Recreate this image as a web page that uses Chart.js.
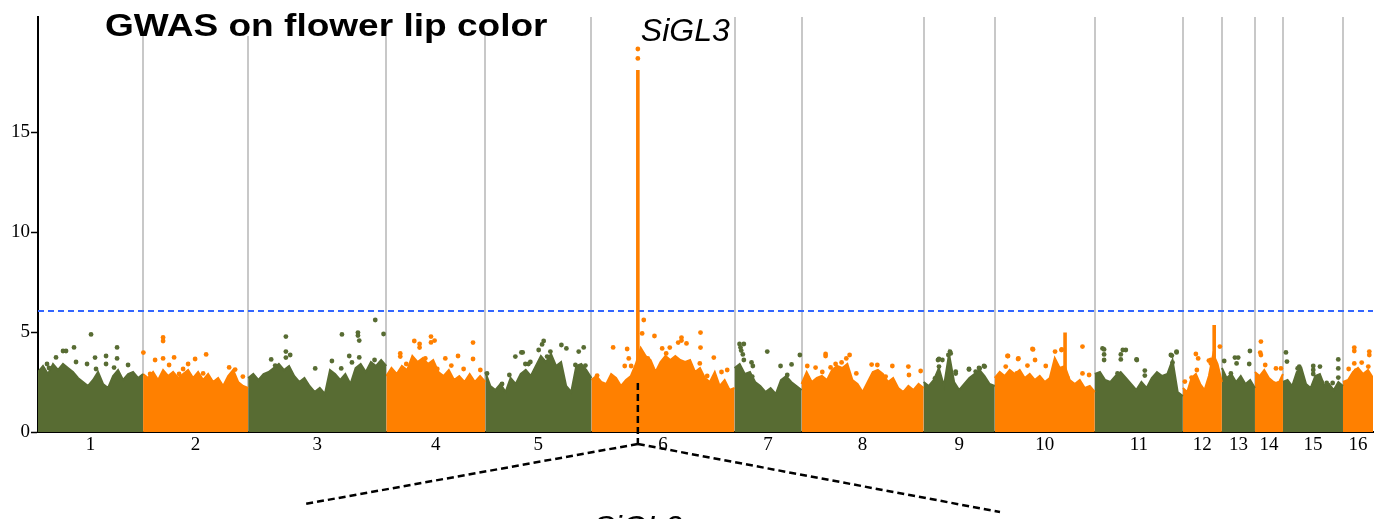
<!DOCTYPE html>
<html><head><meta charset="utf-8">
<script src="https://cdn.jsdelivr.net/npm/chart.js@4.4.1/dist/chart.umd.min.js"></script>
<style>html,body{margin:0;padding:0;background:#fff;}#wrap{width:1385px;height:519px;}</style>
</head><body><div id="wrap"><canvas id="c" width="1385" height="519"></canvas></div>
<script>
// ---------- data ----------
const titleText = 'GWAS on flower lip color';
const locusName = 'SiGL3';
const chromNames = ['1','2','3','4','5','6','7','8','9','10','11','12','13','14','15','16'];
const chromLengths = [105,105,138,99,106,143,67,122,71,100,88,39,33,28,60,30];
const yTicks = [0,5,10,15];
const yMax = 20.75;
const threshold = 6.05;

// upper edge of the dense SNP cloud, evenly spaced along each chromosome (-log10 p)
const top1 = [3.0,3.3,2.9,3.4,3.1,3.4,3.2,3.0,2.7,2.5,2.3,2.6,3.0,2.4,2.2,2.8,3.1,2.6,2.9,3.0,2.7,2.9];
const top2 = [2.9,2.7,3.0,2.6,3.1,2.8,3.0,2.7,2.9,3.1,2.7,3.0,2.6,2.9,2.5,2.7,2.3,2.8,3.1,2.5,2.3,2.2];
const top3 = [2.7,2.9,2.6,2.9,3.0,3.2,3.4,3.1,3.3,2.8,2.5,2.7,2.3,2.0,2.2,1.9,3.1,2.9,2.6,2.9,2.4,3.2,3.4,3.0,3.5,3.3,3.6,3.3];
const top4 = [2.8,3.2,2.9,3.3,3.1,3.8,3.5,3.7,3.4,3.6,3.0,2.8,3.1,2.6,2.8,2.5,2.9,2.5,2.8,2.5];
const top5 = [3.0,2.3,2.1,2.4,2.0,2.7,2.4,2.9,3.1,2.8,3.3,3.8,3.5,3.9,3.3,3.5,2.3,2.0,3.3,3.4,3.1,2.7];
const top6 = [2.6,2.8,2.5,2.4,2.9,2.7,2.3,2.6,2.8,3.4,4.2,3.8,3.6,3.0,3.5,3.8,3.6,3.8,3.6,3.5,3.6,3.0,3.2,2.7,2.5,3.0,2.3,2.6,2.1,2.2];
const top7 = [3.2,3.4,2.9,3.0,2.5,2.3,2.0,2.2,1.9,2.6,2.8,2.5,2.3,2.1];
const top8 = [2.4,3.0,2.5,2.7,2.8,2.6,3.1,3.3,3.2,3.4,2.6,2.4,2.0,2.5,3.0,3.1,2.9,2.5,2.7,2.2,2.0,2.3,2.1,2.4,2.2];
const top9 = [2.5,2.3,2.6,3.2,2.3,3.9,2.5,2.1,2.4,2.7,2.9,3.1,2.8,2.4,2.3];
const top10 = [2.7,3.0,2.8,3.1,2.9,3.1,2.7,2.9,2.6,2.8,2.5,2.7,3.7,3.2,3.3,2.6,2.4,2.6,2.2,2.3,2.0];
const top11 = [2.9,3.0,2.6,2.5,2.8,3.0,2.7,2.4,2.1,2.5,2.2,2.7,3.0,2.8,2.9,3.6,2.0,1.8];
const top12 = [2.2,2.0,2.7,2.9,2.4,2.1,2.8,3.9,3.4,2.5];
const top13 = [3.2,2.7,2.9,2.5,2.8,2.4,2.6,2.2];
const top14 = [3.0,2.8,3.1,2.7,2.5,2.4,2.9];
const top15 = [2.5,2.6,2.3,3.0,3.2,2.4,2.2,2.8,2.9,2.3,2.4,2.1,2.5,2.3];
const top16 = [2.5,2.6,3.0,3.2,2.9,3.1,2.7];
const tops = [top1,top2,top3,top4,top5,top6,top7,top8,top9,top10,top11,top12,top13,top14,top15,top16];

// isolated SNPs above the cloud: [genome position, -log10 p]
const hits1 = [[53,4.88],[36,4.23],[25,4.05],[28,4.05],[79,4.23],[79,3.68],[68,3.8],[57,3.72],[18,3.73],[38,3.5],[49,3.4],[68,3.4],[76,3.22],[90,3.35],[58,3.15],[94,2.8],[9,3.4],[11,3.2]];
const hits2 = [[125,4.73],[125,4.55],[105.3,3.97],[136,3.73],[117,3.6],[125,3.68],[168,3.88],[157,3.65],[150,3.4],[145,3.15],[131,3.35],[191,3.23],[197,3.12],[204.7,2.77],[112,2.9],[141,2.9],[165,2.93]];
const hits3 = [[337,5.6],[247.7,4.77],[303.7,4.88],[319.7,4.97],[319.7,4.82],[321,4.57],[345.3,4.9],[247.7,4.02],[247.7,3.72],[252,3.85],[233,3.63],[311,3.8],[321,3.73],[293.7,3.55],[277,3.18],[336.3,3.6],[303,3.18],[313.7,3.48],[237,3.32]];
const hits4 = [[376,4.55],[381.3,4.4],[381.3,4.22],[392.7,4.77],[392.7,4.48],[396.3,4.57],[434.7,4.47],[362,3.93],[362,3.77],[387,3.68],[407,3.68],[419.7,3.8],[434.7,3.65],[413,3.32],[425.3,3.15],[442,3.1],[399,3.15],[368,3.4]];
const hits5 = [[505.3,4.55],[503.7,4.38],[523,4.35],[528,4.18],[545.3,4.23],[540.3,4.02],[483,3.98],[484.3,3.98],[477,3.77],[500.3,4.1],[508.7,3.77],[512,4.02],[490,3.4],[487,3.4],[492,3.5],[537,3.35],[547,3.32],[471,2.85],[463.7,2.4],[448.7,2.93]];
const hits6 = [[662,4.97],[605.3,5.6],[603.7,4.93],[616,4.8],[643,4.72],[643,4.57],[648,4.43],[639.7,4.47],[662,4.22],[631.3,4.22],[623.7,4.18],[574.7,4.23],[588.7,4.15],[590.3,3.68],[609.3,3.68],[627.7,3.93],[586.3,3.3],[592.7,3.3],[558.7,2.82],[661.3,3.43],[661,2.93],[675.3,3.72],[683,3.0],[668.7,2.8],[688.7,3.1]];
const hits7 = [[701,4.4],[705.3,4.4],[702,4.23],[702.7,4.07],[704.3,3.88],[728.7,4.02],[761.3,3.85],[713,3.48],[714.3,3.3],[742,3.3],[753,3.38],[748.7,2.85],[705.3,3.6],[713.7,2.77]];
const hits8 = [[787,3.9],[787,3.8],[811,3.85],[807.7,3.68],[803,3.48],[797,3.4],[768.7,3.3],[777,3.22],[792,3.23],[833,3.37],[838.7,3.35],[853.7,3.3],[869.7,3.27],[882,3.05],[870.3,2.85],[817.7,2.93],[847,2.77],[783.7,3.0]];
const hits9 = [[911.3,4.02],[909.7,3.85],[899.3,3.6],[903.7,3.6],[917,3.02],[930.3,3.13],[945.3,3.3],[941,3.18],[937,3.02],[896.3,2.68],[900.3,3.65],[900.3,3.27],[912,3.93],[917,2.92],[940.3,3.2],[946,3.27],[930.3,3.15]];
const hits10 = [[993.7,4.15],[1043.7,4.27],[1022.7,4.1],[1016.3,4.02],[968.7,3.8],[979.7,3.68],[996.3,3.6],[1007,3.3],[967,3.27],[988.7,3.32],[1028.7,2.7],[1043.7,2.93],[1050.3,2.85],[978,2.93],[994.3,4.13],[1023,4.13],[969.3,3.8],[979.3,3.65]];
const hits11 = [[1065.3,4.13],[1065.3,3.88],[1065.3,3.6],[1087,4.1],[1082,3.88],[1082,3.63],[1097.7,3.63],[1106,3.07],[1106,2.82],[1078.7,2.93],[1137.7,3.98],[1133,3.82],[1133.7,3.47],[1063.7,4.18],[1084,4.1],[1098,3.6],[1137.7,4.02],[1132,3.85]];
const hits12 = [[1181,4.27],[1157,3.9],[1159.3,3.68],[1172,3.6],[1172,3.43],[1146,2.52],[1152.7,2.72],[1158,3.1],[1170,3.57]];
const hits13 = [[1211,4.05],[1185.3,3.55],[1196,3.72],[1199.3,3.72],[1197.7,3.43],[1210.3,3.4],[1192,2.93],[1202,2.48]];
const hits14 = [[1222,4.52],[1221.3,3.97],[1222,3.85],[1226.3,3.35],[1237,3.18],[1242,3.18],[1239.3,2.43]];
const hits15 = [[1247,3.98],[1248,3.52],[1260.3,3.27],[1258.7,3.18],[1274.3,3.3],[1274.3,3.1],[1274.3,2.9],[1281,3.27],[1299.3,3.63],[1299.3,3.18],[1299.3,2.72],[1287.7,2.45],[1293.7,2.45],[1282.7,2.48]];
const hits16 = [[1315.3,4.22],[1315.3,4.05],[1330.3,4.02],[1330.3,3.85],[1322.7,3.47],[1315.3,3.43],[1309.7,3.15],[1317,3.07],[1329.3,3.27]];
const hits = [hits1,hits2,hits3,hits4,hits5,hits6,hits7,hits8,hits9,hits10,hits11,hits12,hits13,hits14,hits15,hits16];

// narrow, densely stacked association columns: [position, top]
const peakColumns = [[599.4,18.1],[1026.3,4.97],[1175.3,5.35]];
const peakHits = [[599.4,18.68],[599.4,19.15]];
const locusPos = 599.4;

// ---------- styling / assembly ----------
const GREEN = '#586c33', ORANGE = '#ff8000';
const colorOf = i => (i % 2 === 0 ? GREEN : ORANGE);
const starts = []; let acc = 0;
chromLengths.forEach(l => { starts.push(acc); acc += l; });
const total = acc;
const centers = starts.map((s, i) => s + chromLengths[i] / 2);
const boundaries = starts.slice(1);

const datasets = [];
tops.forEach((arr, i) => {
  const s = starts[i], L = chromLengths[i], n = arr.length;
  datasets.push({
    type: 'line', xAxisID: 'x', yAxisID: 'y', order: 5,
    data: arr.map((v, k) => ({ x: s + k * L / (n - 1), y: v })),
    borderColor: colorOf(i), backgroundColor: colorOf(i), borderWidth: 2,
    pointRadius: 0, tension: 0, fill: 'origin'
  });
  datasets.push({
    type: 'scatter', xAxisID: 'x', yAxisID: 'y', order: 1,
    data: hits[i].map(p => ({ x: p[0], y: p[1] })),
    backgroundColor: colorOf(i), borderWidth: 0, pointRadius: 2.4
  });
});
const colData = [];
peakColumns.forEach(p => { colData.push({x:p[0],y:0},{x:p[0],y:p[1]},{x:p[0],y:null}); });
datasets.push({ type:'line', xAxisID:'x', yAxisID:'y', order: 2, data: colData,
  borderColor: ORANGE, borderWidth: 3.6, pointRadius: 0, spanGaps: false, fill: false });
datasets.push({ type:'scatter', xAxisID:'x', yAxisID:'y', order: 1,
  data: peakHits.map(p => ({x:p[0], y:p[1]})), backgroundColor: ORANGE, borderWidth: 0, pointRadius: 2.4 });
datasets.push({ type:'line', xAxisID:'x', yAxisID:'y', order: 10,
  data: [{x:0,y:threshold},{x:total,y:threshold}],
  borderColor: '#3366ff', borderWidth: 2.2, borderDash: [6,4], pointRadius: 0, fill: false });

const annot = {
  id: 'annot',
  afterDraw(chart) {
    const ctx = chart.ctx, xs = chart.scales.x, ys = chart.scales.y;
    const px = xs.getPixelForValue(locusPos);
    ctx.save();
    ctx.fillStyle = '#fff';
    ctx.fillRect(100, 0, 458, 36);
    ctx.fillStyle = '#000';
    ctx.textBaseline = 'alphabetic';
    ctx.save();
    ctx.font = 'bold 31px "Liberation Sans", Arial, sans-serif';
    ctx.translate(105, 36);
    ctx.scale(1.195, 1);
    ctx.fillText(titleText, 0, 0);
    ctx.restore();
    ctx.font = 'italic 32px "Liberation Sans", Arial, sans-serif';
    ctx.fillText(locusName, px + 3, 41);
    // zoom-in guide lines
    ctx.strokeStyle = '#000'; ctx.lineWidth = 2.5; ctx.setLineDash([7, 4]);
    const baseY = ys.bottom + 12;
    ctx.beginPath(); ctx.moveTo(px, ys.getPixelForValue(2.45)); ctx.lineTo(px, baseY); ctx.stroke();
    ctx.beginPath(); ctx.moveTo(px, baseY); ctx.lineTo(305, 504); ctx.stroke();
    ctx.beginPath(); ctx.moveTo(px, baseY); ctx.lineTo(1000, 512); ctx.stroke();
    ctx.setLineDash([]);
    ctx.textAlign = 'center';
    ctx.fillText(locusName, px, 538);
    ctx.restore();
  }
};

new Chart(document.getElementById('c'), {
  data: { datasets },
  options: {
    responsive: false, animation: false, events: [],
    layout: { padding: { top: 17, right: 12, left: 0, bottom: 0 } },
    plugins: { legend: { display: false }, tooltip: { enabled: false }, title: { display: false } },
    scales: {
      x: {
        type: 'linear', position: 'bottom', min: 0, max: total,
        afterBuildTicks: s => { s.ticks = centers.map(v => ({ value: v })); },
        afterFit: s => { s.height = 87; },
        ticks: { autoSkip: false, maxRotation: 0, padding: 2, color: '#000',
          font: { family: '"Liberation Serif", "Times New Roman", serif', size: 19 },
          callback: (v, i) => chromNames[i] },
        grid: { drawOnChartArea: false, drawTicks: false },
        border: { display: true, color: '#000', width: 2 }
      },
      xb: {
        type: 'linear', position: 'bottom', min: 0, max: total,
        afterBuildTicks: s => { s.ticks = boundaries.map(v => ({ value: v })); },
        afterFit: s => { s.height = 0; },
        ticks: { display: false },
        grid: { color: '#c8c8c8', lineWidth: 2, drawTicks: false },
        border: { display: false }
      },
      y: {
        type: 'linear', min: 0, max: yMax,
        afterBuildTicks: s => { s.ticks = yTicks.map(v => ({ value: v })); },
        afterFit: s => { s.width = 38; },
        ticks: { padding: 1, color: '#000',
          font: { family: '"Liberation Serif", "Times New Roman", serif', size: 19 } },
        grid: { drawOnChartArea: false, drawTicks: true, tickLength: 7, color: '#000', tickWidth: 1.5 },
        border: { color: '#000', width: 2 }
      }
    }
  },
  plugins: [annot]
});
</script>
</body></html>
